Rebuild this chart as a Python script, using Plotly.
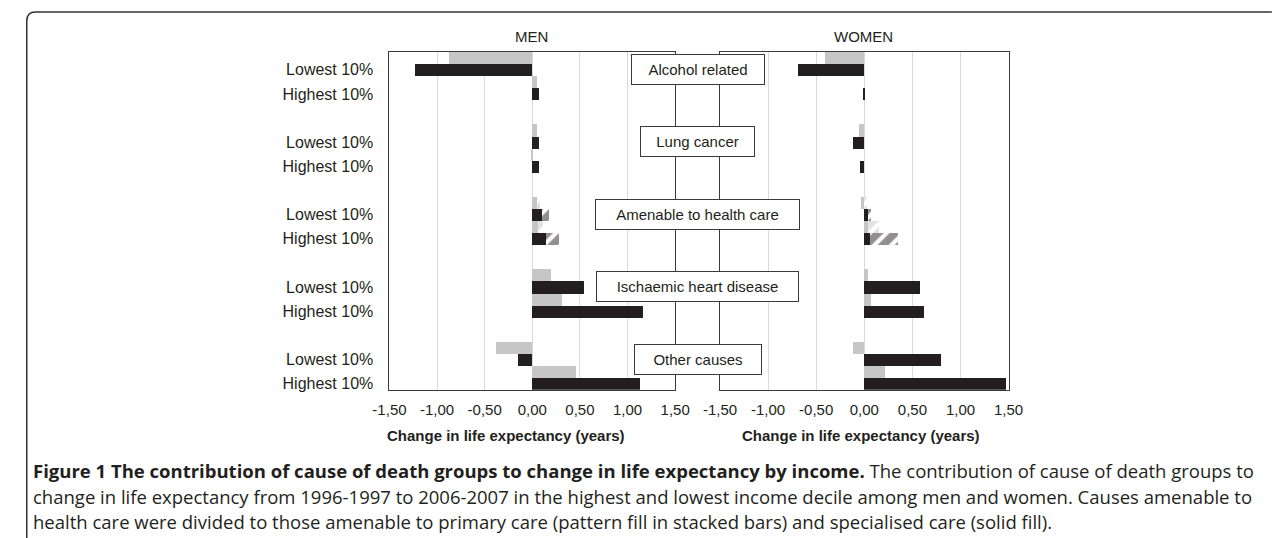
import plotly.graph_objects as go

# ---------------- data ----------------
causes = ["Alcohol related", "Lung cancer", "Amenable to health care",
          "Ischaemic heart disease", "Other causes"]
income_groups = ["Lowest 10%", "Highest 10%"]
panels = ["MEN", "WOMEN"]

x_tickvals = [-1.5, -1.0, -0.5, 0.0, 0.5, 1.0, 1.5]
x_ticktext = ["-1,50", "-1,00", "-0,50", "0,00", "0,50", "1,00", "1,50"]

# values per cause, [Lowest 10%, Highest 10%]
men_grey_solid = [[-0.87, 0.05], [0.05, 0.01], [0.05, 0.06], [0.20, 0.32], [-0.38, 0.46]]
men_grey_pattern = [[0, 0], [0, 0], [0.04, 0.06], [0, 0], [0, 0]]
men_black_solid = [[-1.23, 0.08], [0.07, 0.08], [0.11, 0.15], [0.55, 1.17], [-0.15, 1.14]]
men_black_pattern = [[0, 0], [0, 0], [0.07, 0.13], [0, 0], [0, 0]]

women_grey_solid = [[-0.41, 0.0], [-0.06, 0.0], [-0.03, 0.04], [0.04, 0.07], [-0.12, 0.21]]
women_grey_pattern = [[0, 0], [0, 0], [0.03, 0.11], [0, 0], [0, 0]]
women_black_solid = [[-0.69, -0.01], [-0.12, -0.04], [0.04, 0.06], [0.58, 0.62], [0.80, 1.47]]
women_black_pattern = [[0, 0], [0, 0], [0.03, 0.29], [0, 0], [0, 0]]

axis_title = "Change in life expectancy (years)"
caption_bold = ("Figure 1 The contribution of cause of death groups to change in life "
                "expectancy by income.")
caption_lines = [
    " The contribution of cause of death groups to",
    "change in life expectancy from 1996-1997 to 2006-2007 in the highest and lowest "
    "income decile among men and women. Causes amenable to",
    "health care were divided to those amenable to primary care (pattern fill in stacked "
    "bars) and specialised care (solid fill).",
]

# ---------------- styling / layout helpers ----------------
W, H = 1282, 538
GREY = "#c6c6c6"
BLACK = "#231f20"
TEXT = "#231f20"
FONT = "Liberation Sans, Arial, sans-serif"
CAP_FONT = "Open Sans, sans-serif"

def px_x(p):
    return p / W

def px_y(p):
    return 1 - p / H

# slot layout: each cause group = 4 bar slots, 2 empty slots between groups
GROUP_STEP = 6

def slot(g, i, s):
    # g: cause index, i: income index, s: 0 grey / 1 black
    return g * GROUP_STEP + i * 2 + s

def flat(vals, s):
    xs, ys = [], []
    for g, pair in enumerate(vals):
        for i, v in enumerate(pair):
            xs.append(v)
            ys.append(slot(g, i, s))
    return xs, ys

fig = go.Figure()

def add_series(vals, s, color, pattern, xaxis, yaxis):
    xs, ys = flat(vals, s)
    marker = dict(color=color, line=dict(width=0))
    if pattern:
        marker = dict(color="white", line=dict(width=0),
                      pattern=dict(shape="/", fgcolor=color, bgcolor="white",
                                   size=12, solidity=0.65, fillmode="overlay"))
    fig.add_trace(go.Bar(x=xs, y=ys, orientation="h", width=1, marker=marker,
                         xaxis=xaxis, yaxis=yaxis, showlegend=False,
                         hoverinfo="x+y"))

for (gs, gp, bs, bp), xa, ya in [
    ((men_grey_solid, men_grey_pattern, men_black_solid, men_black_pattern), "x", "y"),
    ((women_grey_solid, women_grey_pattern, women_black_solid, women_black_pattern), "x2", "y2"),
]:
    add_series(gs, 0, GREY, False, xa, ya)
    add_series(gp, 0, GREY, True, xa, ya)
    add_series(bs, 1, BLACK, False, xa, ya)
    add_series(bp, 1, BLACK, True, xa, ya)

n_slots = len(causes) * GROUP_STEP - 2
y_range = [n_slots - 0.5, -0.5]
y_top, y_bot = 52, 392

tickvals_y = [slot(g, i, 1) for g in range(len(causes)) for i in range(len(income_groups))]
ticktext_y = [income_groups[i] for g in range(len(causes)) for i in range(len(income_groups))]

xaxis_common = dict(range=[-1.5, 1.5], tickvals=x_tickvals, ticktext=x_ticktext,
                    showgrid=True, gridcolor="#dadada", gridwidth=1, zeroline=False,
                    showline=True, linecolor="#3a3a3a", linewidth=1, mirror=True,
                    ticks="", tickfont=dict(size=15, color=TEXT, family=FONT),
                    ticklabelstandoff=6, fixedrange=True)
yaxis_common = dict(range=y_range, showgrid=False, zeroline=False, showline=True,
                    linecolor="#3a3a3a", linewidth=1, mirror=True, ticks="",
                    domain=[px_y(y_bot), px_y(y_top)], fixedrange=True)

fig.update_layout(
    width=W, height=H,
    margin=dict(l=0, r=0, t=0, b=0),
    paper_bgcolor="white", plot_bgcolor="white",
    barmode="relative", bargap=0,
    font=dict(family=FONT, color=TEXT),
    xaxis=dict(domain=[px_x(382), px_x(675)], anchor="y", **xaxis_common),
    xaxis2=dict(domain=[px_x(721), px_x(1017)], anchor="y2", **xaxis_common),
    yaxis=dict(anchor="x", tickvals=tickvals_y, ticktext=ticktext_y,
               tickfont=dict(size=16, color=TEXT, family=FONT),
               ticklabelstandoff=12, **yaxis_common),
    yaxis2=dict(anchor="x2", showticklabels=False, **yaxis_common),
)

annotations = []
# panel titles
for name, cx in zip(panels, [528, 868]):
    annotations.append(dict(text=name, x=px_x(cx), y=px_y(37), xref="paper", yref="paper",
                            xanchor="center", yanchor="middle", showarrow=False,
                            font=dict(size=15, color=TEXT, family=FONT)))
# axis titles
for cx in [502, 866]:
    annotations.append(dict(text="<b>" + axis_title + "</b>", x=px_x(cx), y=px_y(438),
                            xref="paper", yref="paper", xanchor="center", yanchor="middle",
                            showarrow=False, font=dict(size=15, color=TEXT, family=FONT)))
# cause label boxes (centred between panels, aligned with the "Lowest 10%" row)
box_widths = [132, 113, 203, 201, 126]
for g, (cause, bw) in enumerate(zip(causes, box_widths)):
    annotations.append(dict(text=cause, x=px_x(698), y=slot(g, 0, 1) - 0.05,
                            xref="paper", yref="y", xanchor="center", yanchor="middle",
                            showarrow=False, width=bw, height=29, bgcolor="white",
                            bordercolor="#3a3a3a", borderwidth=1, borderpad=0,
                            font=dict(size=15, color=TEXT, family=FONT)))
# caption
cap_y = [473, 499, 524.5]
annotations.append(dict(text="<b>" + caption_bold + "</b>" + caption_lines[0],
                        x=px_x(14), y=px_y(cap_y[0]), xref="paper", yref="paper",
                        xanchor="left", yanchor="middle", showarrow=False,
                        font=dict(size=18.5, color=TEXT, family=CAP_FONT)))
for line, yy in zip(caption_lines[1:], cap_y[1:]):
    annotations.append(dict(text=line, x=px_x(14), y=px_y(yy), xref="paper", yref="paper",
                            xanchor="left", yanchor="middle", showarrow=False,
                            font=dict(size=18.5, color=TEXT, family=CAP_FONT)))
fig.update_layout(annotations=annotations)

# outer frame: left + top edges with a rounded top-left corner
x0, y0, r = 10, 12, 9
path = (f"M {px_x(x0)},{px_y(H + 5)} L {px_x(x0)},{px_y(y0 + r)} "
        f"Q {px_x(x0)},{px_y(y0)} {px_x(x0 + r)},{px_y(y0)} L {px_x(W + 5)},{px_y(y0)}")
fig.add_shape(type="path", path=path, xref="paper", yref="paper",
              line=dict(color="#333333", width=1.5))

fig.write_html("out.html",
               config={"displayModeBar": False},
               post_script="document.body.style.margin='0px';"
                           "document.body.style.overflow='hidden';")
